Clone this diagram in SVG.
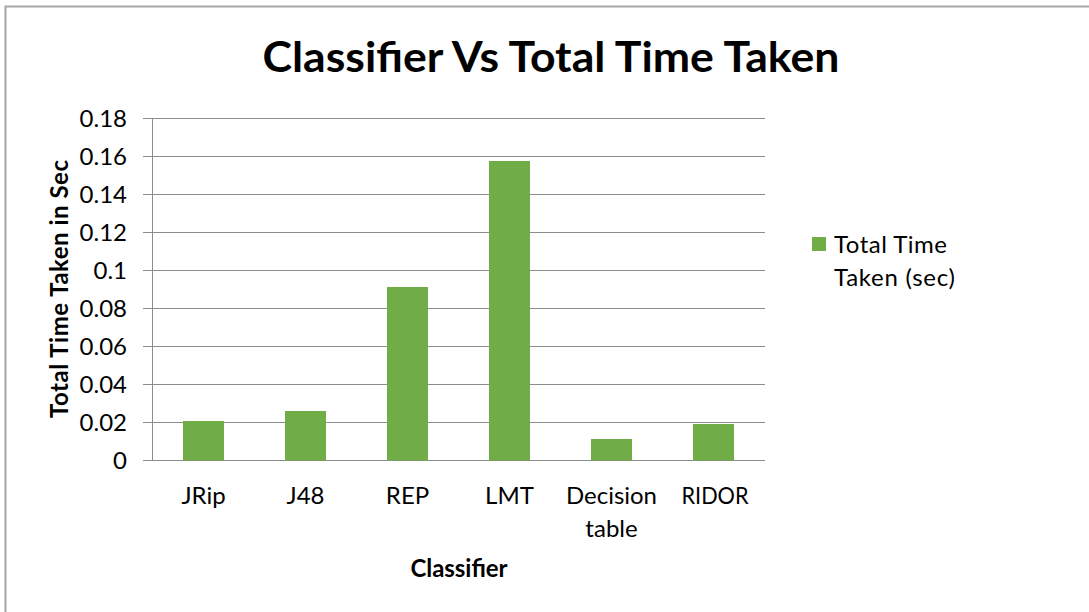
<svg xmlns="http://www.w3.org/2000/svg" width="1089" height="612" viewBox="0 0 1089 612">
  <style>
    .t { font-family: Lato, "Open Sans", "Liberation Sans", sans-serif; fill: #000; font-size: 24px; }
    .tick { text-anchor: end; }
    .cat { text-anchor: middle; }
    .b { font-weight: bold; }
    .grid { stroke: #8c8c8c; stroke-width: 1; }
    .bar { fill: #70ad47; }
  </style>
  <rect x="0" y="0" width="1089" height="612" fill="#fff"/>
  <!-- chart frame -->
  <path d="M5.5 612 V6.5 H1089" fill="none" stroke="#a6a6a6" stroke-width="2"/>

  <g id="title">
    <text class="t b" x="551" y="72" style="font-size:42px" text-anchor="middle" textLength="577" lengthAdjust="spacingAndGlyphs">Classifier Vs Total Time Taken</text>
  </g>

  <!-- gridlines and axes -->
  <g id="grid">
    <line class="grid" x1="143" y1="118.5" x2="765" y2="118.5"/>
    <line class="grid" x1="143" y1="156.5" x2="765" y2="156.5"/>
    <line class="grid" x1="143" y1="194.5" x2="765" y2="194.5"/>
    <line class="grid" x1="143" y1="232.5" x2="765" y2="232.5"/>
    <line class="grid" x1="143" y1="270.5" x2="765" y2="270.5"/>
    <line class="grid" x1="143" y1="308.5" x2="765" y2="308.5"/>
    <line class="grid" x1="143" y1="346.5" x2="765" y2="346.5"/>
    <line class="grid" x1="143" y1="384.5" x2="765" y2="384.5"/>
    <line class="grid" x1="143" y1="422.5" x2="765" y2="422.5"/>
    <line class="grid" x1="143" y1="460.5" x2="765" y2="460.5"/>
    <line class="grid" x1="152.5" y1="118" x2="152.5" y2="461"/>
  </g>

  <g id="y-ticks">
    <text class="t tick" x="127" y="127">0.18</text>
    <text class="t tick" x="127" y="165">0.16</text>
    <text class="t tick" x="127" y="203">0.14</text>
    <text class="t tick" x="127" y="241">0.12</text>
    <text class="t tick" x="127" y="279">0.1</text>
    <text class="t tick" x="127" y="317">0.08</text>
    <text class="t tick" x="127" y="355">0.06</text>
    <text class="t tick" x="127" y="393">0.04</text>
    <text class="t tick" x="127" y="431">0.02</text>
    <text class="t tick" x="127" y="469">0</text>
  </g>

  <g id="bars">
    <rect class="bar" x="183" y="421" width="41" height="39.5"/>
    <rect class="bar" x="285" y="411" width="41" height="49.5"/>
    <rect class="bar" x="387" y="287" width="41" height="173.5"/>
    <rect class="bar" x="489" y="161" width="41" height="299.5"/>
    <rect class="bar" x="591" y="439" width="41" height="21.5"/>
    <rect class="bar" x="693" y="424" width="41" height="36.5"/>
  </g>

  <g id="x-labels">
    <text class="t cat" x="203.5" y="504">JRip</text>
    <text class="t cat" x="305.5" y="504">J48</text>
    <text class="t cat" x="407.5" y="504">REP</text>
    <text class="t cat" x="509.5" y="504">LMT</text>
    <text class="t cat" x="611.5" y="504" textLength="91">Decision</text>
    <text class="t cat" x="611.5" y="537">table</text>
    <text class="t cat" x="715" y="504" textLength="67" lengthAdjust="spacingAndGlyphs">RIDOR</text>
  </g>

  <g id="axis-titles">
    <text class="t b" x="459" y="577" text-anchor="middle" textLength="97">Classifier</text>
    <text class="t b" transform="translate(68 289) rotate(-90)" text-anchor="middle" textLength="258">Total Time Taken in Sec</text>
  </g>

  <g id="legend">
    <rect class="bar" x="812" y="237" width="14" height="14"/>
    <text class="t" x="834" y="253" textLength="113">Total Time</text>
    <text class="t" x="834" y="286" textLength="121">Taken (sec)</text>
  </g>
</svg>
